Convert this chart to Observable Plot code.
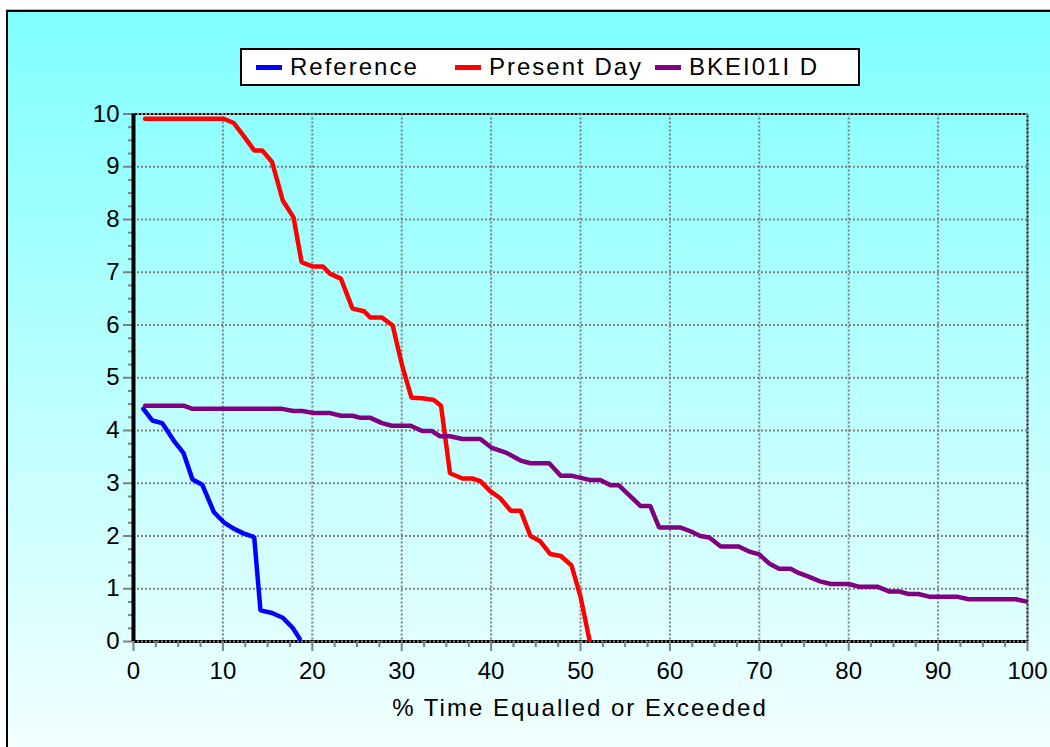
<!DOCTYPE html>
<html>
<head>
<meta charset="utf-8">
<script src="https://cdn.jsdelivr.net/npm/d3@7"></script>
<script src="https://cdn.jsdelivr.net/npm/@observablehq/plot@0.6"></script>
<style>
  html, body { margin: 0; padding: 0; width: 1050px; height: 747px; overflow: hidden; background: #fff; }
  body { position: relative; font-family: "Liberation Sans", Arial, sans-serif; }
  #frame { position: absolute; left: 6px; top: 10px; width: 1100px; height: 760px;
    border-left: 2px solid #000; border-top: 2px solid #000; box-shadow: 0 -1px 0 #b8b8b8;
    background: linear-gradient(to bottom, #80ffff 0%, #f6ffff 100%); }
  #chart { position: absolute; left: 0; top: 0; }
  #legend { position: absolute; left: 240px; top: 48px; width: 616px; height: 34px;
    background: #fff; border: 2px solid #000; }
  .item { position: absolute; top: 0; height: 34px; display: flex; align-items: center; }
  .sw { width: 26px; height: 5px; margin-right: 8px; }
  .lab { font-size: 24px; letter-spacing: 2px; color: #000; white-space: nowrap; }
  #xtitle { position: absolute; left: 380px; width: 400px; top: 694px; text-align: center;
    font-size: 24px; letter-spacing: 2px; color: #000; white-space: nowrap; }
</style>
</head>
<body>
<div id="frame"></div>
<div id="chart"></div>
<div id="legend"></div>
<div id="xtitle"></div>
<script>
// ---- Data ----
const seriesNames = ["Reference", "Present Day", "BKEI01I D"];
const seriesColors = ["#0000ff", "#ff0000", "#800080"];

const refX = [1.1, 2.1, 3.2, 4.5, 5.6, 6.6, 7.7, 9.0, 10.1, 11.2, 12.3, 13.5, 14.2, 15.5, 16.7, 17.8, 18.6];
const refY = [4.41, 4.19, 4.14, 3.81, 3.57, 3.07, 2.97, 2.45, 2.26, 2.14, 2.05, 1.98, 0.59, 0.54, 0.45, 0.26, 0.05];

const presX = [1.3, 10.1, 11.2, 12.3, 13.5, 14.4, 15.5, 16.7, 17.9, 18.8, 20.0, 21.2, 22.0, 23.2, 24.5, 25.8, 26.5, 27.8, 29.0, 29.5,
               30.1, 31.1, 32.3, 33.6, 34.4, 35.4, 36.8, 37.9, 38.8, 39.9, 41.0, 42.2, 43.3, 44.4, 45.5, 46.6, 47.8, 49.0, 50.0, 51.0];
const presY = [9.91, 9.91, 9.83, 9.59, 9.31, 9.31, 9.09, 8.36, 8.04, 7.19, 7.11, 7.11, 6.97, 6.88, 6.31, 6.26, 6.14, 6.14, 5.99, 5.62,
               5.20, 4.62, 4.61, 4.58, 4.47, 3.19, 3.09, 3.09, 3.04, 2.85, 2.72, 2.48, 2.48, 2.00, 1.90, 1.66, 1.62, 1.44, 0.85, 0.03];

const bkX = [1.3, 5.6, 6.6, 16.6, 17.9, 18.9, 20.2, 22.0, 23.2, 24.5, 25.4, 26.5, 27.8, 28.9, 31.0, 32.3, 33.4, 34.3, 35.4, 36.8,
             38.8, 40.1, 41.8, 43.3, 44.4, 46.5, 47.8, 49.1, 51.1, 52.2, 53.4, 54.3, 56.7, 57.8, 58.8, 61.2, 62.3, 63.4, 64.4, 65.7,
             67.7, 68.8, 70.0, 71.1, 72.2, 73.5, 74.4, 75.5, 76.8, 78.0, 80.0, 81.1, 83.2, 84.5, 85.6, 86.7, 87.8, 89.0, 92.1, 93.4,
             98.7, 99.8];
const bkY = [4.47, 4.47, 4.41, 4.41, 4.37, 4.37, 4.33, 4.33, 4.28, 4.28, 4.24, 4.24, 4.14, 4.09, 4.09, 3.99, 3.99, 3.89, 3.89, 3.84,
             3.84, 3.67, 3.57, 3.43, 3.38, 3.38, 3.14, 3.14, 3.06, 3.06, 2.96, 2.96, 2.57, 2.57, 2.16, 2.16, 2.09, 2.00, 1.97, 1.80,
             1.80, 1.71, 1.65, 1.48, 1.38, 1.38, 1.30, 1.23, 1.14, 1.09, 1.09, 1.04, 1.04, 0.95, 0.95, 0.90, 0.90, 0.85, 0.85, 0.80,
             0.80, 0.76];

const xTicks = [0, 10, 20, 30, 40, 50, 60, 70, 80, 90, 100];
const yTicks = [0, 1, 2, 3, 4, 5, 6, 7, 8, 9, 10];
const xMinor = [2.5, 5, 7.5, 12.5, 15, 17.5, 22.5, 25, 27.5, 32.5, 35, 37.5, 42.5, 45, 47.5, 52.5, 55, 57.5, 62.5, 65, 67.5,
                72.5, 75, 77.5, 82.5, 85, 87.5, 92.5, 95, 97.5];
const yMinor = [0.25, 0.5, 0.75, 1.25, 1.5, 1.75, 2.25, 2.5, 2.75, 3.25, 3.5, 3.75, 4.25, 4.5, 4.75, 5.25, 5.5, 5.75,
                6.25, 6.5, 6.75, 7.25, 7.5, 7.75, 8.25, 8.5, 8.75, 9.25, 9.5, 9.75];
const xTitle = "% Time Equalled or Exceeded";

// ---- Build table ----
const rows = [];
[[refX, refY], [presX, presY], [bkX, bkY]].forEach(([xs, ys], i) => {
  xs.forEach((x, j) => rows.push({series: seriesNames[i], x, y: ys[j]}));
});

const xMax = d3.max(xTicks), yMax = d3.max(yTicks);
const fmt = d => String(d);

const chart = Plot.plot({
  width: 1050,
  height: 747,
  marginLeft: 133,
  marginRight: 23,
  marginTop: 113.5,
  marginBottom: 106,
  style: {background: "transparent", fontFamily: "'Liberation Sans', Arial, sans-serif", color: "#000"},
  x: {domain: [0, xMax], label: null},
  y: {domain: [0, yMax], label: null},
  color: {domain: seriesNames, range: seriesColors},
  marks: [
    Plot.ruleY([0], {stroke: "#000", strokeWidth: 3}),
    Plot.ruleY([yMax], {stroke: "#000", strokeWidth: 2, strokeDasharray: "2,2", strokeDashoffset: 2}),
    Plot.ruleX([xMax], {stroke: "#000", strokeWidth: 2, strokeDasharray: "2,2", strokeDashoffset: 2}),
    Plot.gridX(xTicks, {stroke: "#808080", strokeOpacity: 1, strokeWidth: 2, strokeDasharray: "2,2"}),
    Plot.gridY(yTicks, {stroke: "#808080", strokeOpacity: 1, strokeWidth: 2, strokeDasharray: "2,2"}),
    Plot.axisX(xMinor, {tickSize: 6, tickFormat: () => "", stroke: "#808080", strokeWidth: 2, label: null}),
    Plot.axisY(yMinor, {tickSize: 5, tickFormat: () => "", stroke: "#808080", strokeWidth: 2, label: null}),
    Plot.axisX(xTicks, {tickSize: 10, tickPadding: 10, tickFormat: fmt, stroke: "#808080", strokeWidth: 2, fill: "#000", fontSize: 24, label: null}),
    Plot.axisY(yTicks, {tickSize: 10, tickPadding: 4, tickFormat: fmt, stroke: "#808080", strokeWidth: 2, fill: "#000", fontSize: 24, label: null}),
    Plot.ruleX([0], {stroke: "#000", strokeWidth: 4}),
    Plot.line(rows, {x: "x", y: "y", z: "series", stroke: "series", strokeWidth: 4.5, strokeLinejoin: "miter"})
  ]
});
document.getElementById("chart").appendChild(chart);

// legend
const legend = document.getElementById("legend");
const itemLeft = [14, 213, 413];
seriesNames.forEach((name, i) => {
  const it = document.createElement("div");
  it.className = "item";
  it.style.left = itemLeft[i] + "px";
  const sw = document.createElement("div");
  sw.className = "sw";
  sw.style.background = seriesColors[i];
  const lab = document.createElement("span");
  lab.className = "lab";
  lab.textContent = name;
  it.appendChild(sw);
  it.appendChild(lab);
  legend.appendChild(it);
});
document.getElementById("xtitle").textContent = xTitle;
</script>
</body>
</html>
